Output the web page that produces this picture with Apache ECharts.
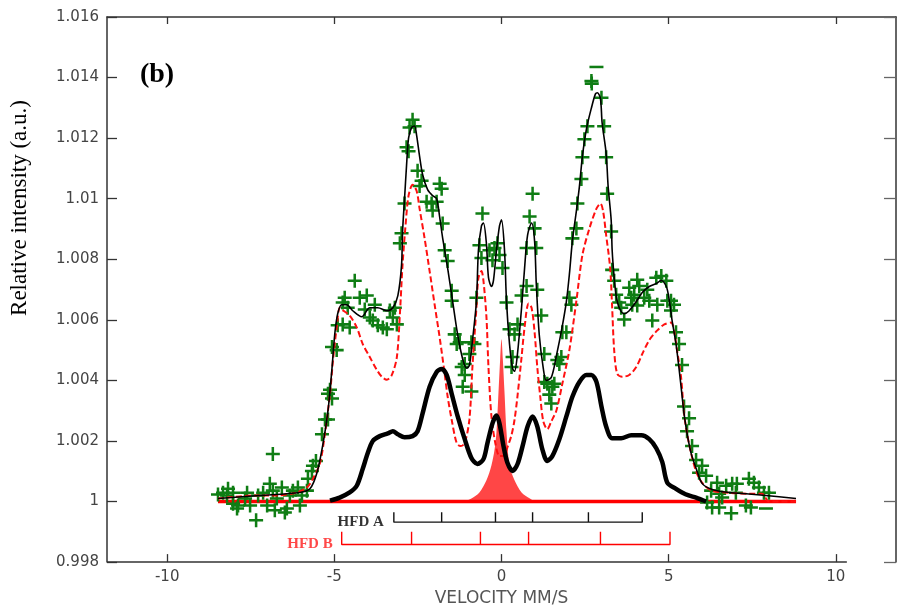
<!DOCTYPE html>
<html>
<head>
<meta charset="utf-8">
<title>Mössbauer spectrum (b)</title>
<script src="https://cdn.jsdelivr.net/npm/echarts@6/dist/echarts.min.js"></script>
<style>
  html, body { margin: 0; padding: 0; background: #fff; }
  #chart { width: 913px; height: 612px; }
</style>
</head>
<body>
<div id="chart"></div>
<script>
// Axis ticks
const xTickValues = [-10, -5, 0, 5, 10];
const yTickValues = [0.998, 1.0, 1.002, 1.004, 1.006, 1.008, 1.01, 1.012, 1.014, 1.016];

// Measured spectrum: [velocity mm/s, relative intensity]
const measured = [
  [-8.48,1.00023],[-8.33,1.00029],[-8.18,1.00042],[-8.21,1.0002],[-8.03,0.99993],[-7.91,0.99977],[-7.61,1.00029],[-7.67,1.0001],
  [-7.52,0.99987],[-7.34,0.99938],[-7.28,1.0002],[-7.13,1.00029],[-7.01,0.99987],[-6.93,1.00059],[-6.84,1.00036],[-6.78,0.99971],
  [-6.72,1.0001],[-6.57,1.00046],[-6.48,0.99964],[-6.42,0.99977],[-6.33,1.0002],[-6.24,1.00036],[-6.09,1.00046],[-6.03,0.99987],
  [-5.97,1.0002],[-5.82,1.00036],[-5.79,1.00075],[-5.67,1.00101],[-5.64,1.00118],[-5.55,1.00134],[-6.84,1.00157],[-5.37,1.00222],
  [-5.28,1.00271],[-5.19,1.00271],[-5.19,1.00356],[-5.07,1.0034],[-5.07,1.0051],[-4.93,1.005],[-5.13,1.00369],[-7.88,0.99987],[-8.03,1.00029],
  [-4.75,1.00657],[-4.69,1.00673],[-4.60,1.0064],[-4.39,1.00729],[-4.24,1.00673],[-4.03,1.0068],[-4.75,1.00585],[-4.90,1.00582],
  [-4.54,1.00575],[-4.09,1.00634],[-3.94,1.00608],[-3.79,1.0065],[-3.85,1.00598],[-3.70,1.00582],[-3.55,1.00575],[-3.43,1.00569],
  [-3.34,1.00631],[-3.19,1.0064],[-3.25,1.00608],[-3.13,1.00585],
  [-2.99,1.00886],[-3.04,1.00853],[-2.90,1.00984],[-2.84,1.0117],[-2.78,1.01157],[-2.66,1.01261],[-2.60,1.01239],[-2.75,1.01235],
  [-2.51,1.01092],[-2.39,1.01059],[-2.45,1.01042],[-2.24,1.0099],[-2.09,1.00984],[-2.06,1.00961],[-1.94,1.0099],[-1.85,1.01049],
  [-1.79,1.01033],[-1.76,1.00918],[-1.70,1.0083],[-1.61,1.00794],[-1.49,1.00696],[-1.49,1.00663],[-1.40,1.00552],[-1.25,1.00526],
  [-1.34,1.0052],[-1.10,1.00454],[-1.10,1.00418],[-1.16,1.00379],[-0.90,1.00363],[-0.81,1.0052],[-0.96,1.00487],[-1.19,1.00444],[-0.90,1.00526],
  [-0.75,1.00673],[-0.60,1.00804],[-0.66,1.00846],[-0.57,1.00951],[-0.36,1.0083],[-0.21,1.00837],[-0.12,1.00853],[-0.27,1.00797],
  [-0.06,1.00814],[0.03,1.00771],[0.15,1.00657],[0.24,1.00569],[0.39,1.00552],[0.33,1.00477],[0.30,1.00444],[0.48,1.00585],
  [0.60,1.0068],[0.75,1.00712],[0.75,1.00837],[1.04,1.00837],[0.84,1.00941],[0.93,1.01016],[0.99,1.00902],[1.07,1.00699],
  [1.19,1.00614],[1.28,1.00487],[1.28,1.00395],[1.37,1.00389],[1.43,1.00353],[1.58,1.00389],[1.52,1.00379],[1.67,1.00467],
  [1.49,1.00324],[1.73,1.00454],[1.79,1.00477],[1.82,1.00559],[1.94,1.00559],[2.03,1.00673],[2.09,1.0065],[2.12,1.00869],
  [2.24,1.00902],[2.27,1.00984],[2.39,1.01065],[2.42,1.01137],[2.48,1.01196],[2.57,1.01239],[2.69,1.01389],[2.70,1.0138],
  [2.99,1.01333],[3.07,1.01239],[3.13,1.01137],[3.16,1.01016],[3.28,1.00892],[3.31,1.00765],[3.37,1.00729],[3.43,1.00683],
  [3.52,1.00657],[3.58,1.0064],[3.67,1.00601],[3.82,1.00706],[3.88,1.00673],[3.97,1.00683],[4.06,1.00732],[4.12,1.00712],
  [3.91,1.0065],[4.06,1.00647],[4.27,1.00673],[4.36,1.00699],[4.42,1.00663],[4.51,1.00598],[4.66,1.0065],[4.63,1.00739],
  [4.78,1.00745],[4.93,1.00729],[4.96,1.00663],[5.07,1.00663],[5.16,1.0065],[5.07,1.00631],[5.22,1.00559],[5.31,1.0052],
  [5.40,1.00451],[5.46,1.00314],
  [5.61,1.00275],[5.55,1.00232],[5.70,1.00183],[5.82,1.00137],[6.00,1.00118],[5.91,1.00095],[6.12,1.00085],[6.45,1.00062],
  [6.72,1.00052],[6.90,1.00059],[7.04,1.00059],[7.40,1.00075],[7.55,1.00062],[7.70,1.00046],[6.27,1.00036],[6.51,1.00026],
  [6.60,1.00013],[6.30,0.9998],[6.51,0.9998],[6.87,0.99961],[7.31,0.99987],[7.46,0.9998],[7.85,1.00029],[8.00,1.00029],
  [6.15,0.99997],[7.01,1.00029]
];
// Two readings plotted with a dash marker
const measuredDash = [[2.84,1.01435],[7.91,0.99977]];

// Total fitted envelope
const totalFit = [
  [-8.48,1.0001],[-7.22,1.0002],[-6.03,1.0003],[-5.73,1.00042],[-5.52,1.00095],[-5.34,1.0019],[-5.19,1.0030],[-5.07,1.0044],
  [-4.99,1.0055],[-4.90,1.0062],[-4.78,1.0065],[-4.63,1.0065],[-4.45,1.0063],[-4.18,1.0061],[-3.94,1.0064],[-3.70,1.0064],
  [-3.43,1.0063],[-3.25,1.0064],[-3.10,1.0068],[-2.99,1.0078],[-2.96,1.0089],[-2.90,1.0100],[-2.84,1.0111],[-2.78,1.0120],
  [-2.69,1.01235],[-2.60,1.0124],[-2.54,1.0121],[-2.45,1.0114],[-2.36,1.0108],[-2.21,1.0103],[-2.06,1.0101],[-1.94,1.0100],
  [-1.85,1.0094],[-1.76,1.0087],[-1.61,1.0077],[-1.46,1.0066],[-1.31,1.0055],[-1.16,1.0047],[-1.04,1.0044],[-0.96,1.0045],
  [-0.87,1.0053],[-0.75,1.0066],[-0.69,1.0083],[-0.60,1.0091],[-0.54,1.0092],[-0.45,1.0085],[-0.39,1.0074],[-0.30,1.0071],
  [-0.24,1.0073],[-0.15,1.0083],[-0.06,1.0091],[0.00,1.0093],[0.09,1.0083],[0.15,1.0066],[0.24,1.0052],[0.33,1.0044],
  [0.39,1.0043],[0.48,1.0049],[0.60,1.0064],[0.69,1.0077],[0.78,1.0088],[0.90,1.0092],[0.99,1.0086],[1.04,1.0072],
  [1.13,1.0055],[1.25,1.0044],[1.34,1.0040],[1.49,1.0041],[1.64,1.0048],[1.82,1.0058],[1.94,1.0066],[2.03,1.0075],
  [2.12,1.0086],[2.24,1.0096],[2.33,1.0104],[2.42,1.0114],[2.54,1.0123],[2.69,1.0130],[2.81,1.01346],[2.87,1.0135],
  [2.96,1.0133],[3.01,1.0125],[3.13,1.0115],[3.19,1.0104],[3.28,1.0093],[3.31,1.0083],[3.37,1.0074],[3.43,1.0068],
  [3.52,1.0064],[3.67,1.0062],[3.82,1.0063],[4.03,1.0066],[4.21,1.0069],[4.42,1.0071],[4.63,1.0072],[4.78,1.0073],
  [4.93,1.0071],[5.01,1.0067],[5.10,1.0060],[5.22,1.0052],[5.31,1.0044],[5.40,1.0035],[5.46,1.0029],[5.55,1.00225],
  [5.67,1.0016],[5.82,1.0011],[6.00,1.0006],[6.30,1.0004],[6.81,1.0003],[7.40,1.00025],[7.91,1.0002],[8.81,1.0001]
];

// HFD B sub-spectrum
const hfdBCurve = [
  [-8.48,1.0001],[-7.34,1.0002],[-6.72,1.0002],[-6.12,1.0003],[-5.82,1.00046],[-5.64,1.00075],[-5.43,1.00127],[-5.28,1.00225],
  [-5.13,1.00356],[-5.04,1.00467],[-4.93,1.00575],[-4.84,1.0064],[-4.78,1.00634],[-4.54,1.00614],[-4.33,1.00575],[-4.15,1.0052],
  [-3.94,1.00477],[-3.73,1.00435],[-3.58,1.00412],[-3.43,1.00402],[-3.28,1.00418],[-3.13,1.00477],[-3.04,1.00618],[-2.96,1.00781],
  [-2.87,1.00912],[-2.78,1.0101],[-2.66,1.01046],[-2.54,1.01026],[-2.45,1.00967],[-2.30,1.00869],[-2.15,1.00761],[-2.00,1.0065],
  [-1.85,1.00542],[-1.70,1.00422],[-1.61,1.00346],[-1.49,1.0027],[-1.34,1.00193],[-1.22,1.00183],[-1.10,1.00193],[-0.96,1.00271],
  [-0.87,1.00444],[-0.75,1.0064],[-0.69,1.00739],[-0.60,1.00761],[-0.54,1.00729],[-0.45,1.00608],[-0.39,1.00444],[-0.30,1.0028],
  [-0.18,1.0019],[-0.06,1.0015],[0.06,1.0015],[0.18,1.0018],[0.30,1.0022],[0.39,1.0027],[0.48,1.0035],[0.60,1.00477],
  [0.69,1.00575],[0.81,1.00654],[0.90,1.0064],[0.99,1.00559],[1.07,1.00444],[1.16,1.00346],[1.25,1.00265],[1.37,1.00239],
  [1.49,1.00265],[1.64,1.003],[1.82,1.00389],[2.03,1.005],[2.24,1.00663],[2.42,1.00814],[2.63,1.00902],[2.84,1.00967],
  [2.96,1.00984],[3.04,1.00958],[3.13,1.0088],[3.25,1.00771],[3.31,1.0064],[3.37,1.005],[3.46,1.00422],[3.61,1.00412],
  [3.82,1.00418],[4.03,1.00444],[4.21,1.00487],[4.42,1.00533],[4.66,1.00565],[4.87,1.00585],[5.07,1.00591],[5.16,1.00565],
  [5.25,1.005],[5.37,1.00412],[5.46,1.00291],[5.55,1.00225],[5.67,1.0016],[5.82,1.001],[6.00,1.00062],[6.30,1.00036],
  [6.81,1.00029],[7.40,1.00026],[7.79,1.00026],[8.00,1.0000],[8.81,1.0000]
];

// HFD A sub-spectrum
const hfdACurve = [
  [-5.13,1.00003],[-4.84,1.00013],[-4.54,1.0003],[-4.33,1.00052],[-4.15,1.00108],[-4.00,1.0016],[-3.85,1.002],[-3.64,1.00216],
  [-3.40,1.00225],[-3.25,1.00232],[-3.10,1.00222],[-2.90,1.00212],[-2.66,1.00216],[-2.51,1.00232],[-2.36,1.00291],[-2.15,1.00379],
  [-1.94,1.00428],[-1.79,1.00438],[-1.64,1.00418],[-1.49,1.00356],[-1.31,1.00281],[-1.10,1.00206],[-0.90,1.00144],[-0.72,1.00124],
  [-0.54,1.0014],[-0.42,1.00193],[-0.27,1.00258],[-0.15,1.00284],[-0.06,1.00258],[0.06,1.00183],[0.18,1.00127],[0.33,1.00101],
  [0.48,1.00124],[0.63,1.00183],[0.78,1.00248],[0.93,1.00281],[1.07,1.00248],[1.22,1.00173],[1.37,1.00134],[1.52,1.0015],
  [1.73,1.00206],[1.94,1.00281],[2.12,1.00346],[2.33,1.00395],[2.54,1.00418],[2.69,1.00418],[2.84,1.00395],[2.99,1.00314],
  [3.13,1.00248],[3.31,1.00209],[3.58,1.00209],[3.88,1.00219],[4.18,1.00219],[4.42,1.00206],[4.63,1.00176],[4.81,1.0013],
  [4.96,1.00062],[5.22,1.00042],[5.40,1.0003],[5.60,1.0002],[5.82,1.00013],[6.12,1.0]
];

// Central singlet (filled)
const singletCurve = [
  [-8.48,1.0],[-1.16,1.0],[-0.90,1.0001],[-0.66,1.0003],[-0.45,1.0007],[-0.30,1.0012],[-0.21,1.0017],[-0.15,1.0023],
  [-0.09,1.0036],[-0.04,1.0047],[0.0,1.00536],[0.04,1.0047],[0.09,1.0036],[0.15,1.0023],[0.24,1.0012],[0.39,1.0007],
  [0.60,1.0003],[0.85,1.0001],[1.04,1.0],[8.81,1.0]
];

// Line positions of the two sextets (mm/s)
const hfdALines = [-3.22, -1.79, -0.18, 0.93, 2.60, 4.21];
const hfdBLines = [-4.78, -2.69, -0.63, 0.81, 2.96, 5.04];

// ---- layout constants ----
const X_MIN = -11.8, X_MAX = 11.8, Y_MIN = 0.998, Y_MAX = 1.016;
const BOTTOM_LINE_END = 10.33;
const STICK_A = { base: 0.99932, top: 0.99965 };
const STICK_B = { base: 0.99858, top: 0.99900 };

// Build a comb: bar along base with upward ticks at each line position
function comb(lines, lv) {
  const pts = [];
  lines.forEach((p, i) => {
    if (i === 0) { pts.push([p, lv.top]); pts.push([p, lv.base]); }
    else { pts.push([p, lv.base]); pts.push([p, lv.top]); pts.push([p, lv.base]); }
  });
  return pts;
}

const crossPath = 'path://M8.2,0H11.8V20H8.2ZM0,8.2H20V11.8H0Z';
const dashPath = 'path://M0,0H20V3.6H0Z';
const green = '#0f7d14';
const axisColor = '#333';
const labelFont = { fontFamily: 'DejaVu Sans', fontSize: 15, color: '#444' };

const chart = echarts.init(document.getElementById('chart'), null, { renderer: 'canvas' });

chart.setOption({
  animation: false,
  backgroundColor: '#fff',
  grid: { left: 107, right: 17, top: 17, bottom: 45 },
  xAxis: [
    {
      type: 'value', position: 'bottom', min: X_MIN, max: X_MAX,
      axisLine: { show: false, onZero: false },
      axisTick: { show: true, inside: true, length: 8, customValues: xTickValues, lineStyle: { color: axisColor, width: 1.3 } },
      axisLabel: { show: true, customValues: xTickValues, margin: 8, ...labelFont },
      splitLine: { show: false },
      name: 'VELOCITY MM/S', nameLocation: 'middle', nameGap: 25,
      nameTextStyle: { fontFamily: 'DejaVu Sans', fontSize: 17, color: '#555' }
    },
    {
      type: 'value', position: 'top', min: X_MIN, max: X_MAX,
      axisLine: { show: true, onZero: false, lineStyle: { color: axisColor, width: 1.5 } },
      axisTick: { show: true, inside: true, length: 7, customValues: xTickValues, lineStyle: { color: axisColor, width: 1.3 } },
      axisLabel: { show: false },
      splitLine: { show: false }
    }
  ],
  yAxis: [
    {
      type: 'value', position: 'left', min: Y_MIN, max: Y_MAX,
      axisLine: { show: true, onZero: false, lineStyle: { color: axisColor, width: 1.5 } },
      axisTick: { show: true, inside: true, length: 10, customValues: yTickValues, lineStyle: { color: axisColor, width: 1.3 } },
      axisLabel: { show: true, customValues: yTickValues, margin: 8, ...labelFont,
        formatter: v => String(+(+v).toFixed(3)) },
      splitLine: { show: false }
    },
    {
      type: 'value', position: 'right', min: Y_MIN, max: Y_MAX,
      axisLine: { show: true, onZero: false, lineStyle: { color: axisColor, width: 1.5 } },
      axisTick: { show: true, inside: true, length: 12, customValues: yTickValues, lineStyle: { color: '#666', width: 1.3 } },
      axisLabel: { show: false },
      splitLine: { show: false }
    }
  ],
  graphic: [
    {
      type: 'text', x: 20, y: 208, rotation: Math.PI / 2,
      style: { text: 'Relative intensity (a.u.)', font: '23px "Liberation Serif"', fill: '#000',
        align: 'center', verticalAlign: 'middle' }
    },
    {
      type: 'text', x: 157, y: 75,
      style: { text: '(b)', font: 'bold 28px "Liberation Serif"', fill: '#000',
        align: 'center', verticalAlign: 'middle' }
    }
  ],
  series: [
    {
      name: 'axis-bottom', type: 'line', silent: true, clip: false, showSymbol: false,
      data: [[X_MIN, Y_MIN], [BOTTOM_LINE_END, Y_MIN]],
      lineStyle: { color: axisColor, width: 1.5 }, z: 10
    },
    {
      name: 'singlet', type: 'line', data: singletCurve, showSymbol: false, smooth: 0.3,
      lineStyle: { width: 0 },
      areaStyle: { color: 'rgb(255,70,70)', opacity: 1, origin: 1 }, z: 2
    },
    {
      name: 'baseline', type: 'line', data: [[singletCurve[0][0], 1], [singletCurve[singletCurve.length - 1][0], 1]],
      showSymbol: false, lineStyle: { color: '#ff0000', width: 3.5 }, z: 3
    },
    {
      name: 'measured', type: 'scatter', data: measured, symbol: crossPath, symbolSize: 14,
      itemStyle: { color: green, opacity: 1 }, z: 4
    },
    {
      name: 'measured-dash', type: 'scatter', data: measuredDash, symbol: dashPath, symbolSize: 14,
      symbolKeepAspect: true, itemStyle: { color: green, opacity: 1 }, z: 4
    },
    {
      name: 'HFD B', type: 'line', data: hfdBCurve, showSymbol: false, smooth: 0.3,
      lineStyle: { color: '#ff1010', width: 2, type: [6, 3] }, z: 5
    },
    {
      name: 'HFD A', type: 'line', data: hfdACurve, showSymbol: false, smooth: 0.3,
      lineStyle: { color: '#000', width: 4.5 }, z: 6
    },
    {
      name: 'fit', type: 'line', data: totalFit, showSymbol: false, smooth: 0.3,
      lineStyle: { color: '#000', width: 1.6 }, z: 7
    },
    {
      name: 'comb A', type: 'line', data: comb(hfdALines, STICK_A), showSymbol: false, clip: false,
      lineStyle: { color: '#111', width: 1.4 }, z: 8
    },
    {
      name: 'comb B', type: 'line', data: comb(hfdBLines, STICK_B), showSymbol: false, clip: false,
      lineStyle: { color: '#ff0000', width: 1.4 }, z: 8
    },
    {
      name: 'comb labels', type: 'scatter', symbolSize: 0, z: 9, silent: true,
      data: [
        { value: [hfdALines[0], STICK_A.base],
          label: { show: true, formatter: 'HFD A', position: 'left', distance: 10,
            fontFamily: 'Liberation Serif', fontWeight: 'bold', fontSize: 15, color: '#000' } },
        { value: [hfdBLines[0], STICK_B.base],
          label: { show: true, formatter: 'HFD B', position: 'left', distance: 9,
            fontFamily: 'Liberation Serif', fontWeight: 'bold', fontSize: 15, color: '#ff1a1a' } }
      ]
    }
  ]
});
</script>
</body>
</html>
